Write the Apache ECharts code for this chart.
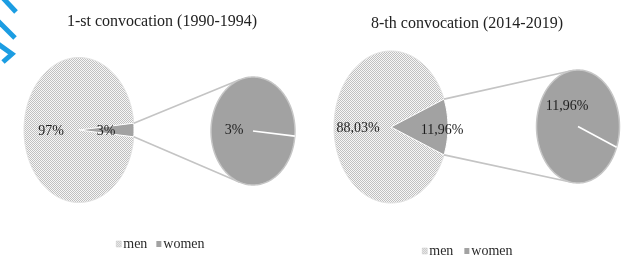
<!DOCTYPE html>
<html>
<head>
<meta charset="utf-8">
<script src="https://cdn.jsdelivr.net/npm/echarts@6/dist/echarts.min.js"></script>
<style>
  html, body { margin: 0; background: #fff; }
  #chart { width: 622px; height: 256px; }
</style>
</head>
<body>
<div id="chart"></div>
<script>
// data
const categories = ['men', 'women'];
const titles = ['1-st convocation (1990-1994)', '8-th convocation (2014-2019)'];
const conv1Values = [97, 3];
const conv8Values = [88.03, 11.96];
const conv1Labels = ['97%', '3%'];
const conv8Labels = ['88,03%', '11,96%'];

// layout of the two pie-of-pie panels (stretched pies -> ellipses)
const panels = [
  {
    values: conv1Values, labels: conv1Labels,
    main: { cx: 79, cy: 130, rx: 55, ry: 72.5 },
    sub: { cx: 253, cy: 131, rx: 42, ry: 54 },
    menLabel: [-28, 1], womenLabel: [27, 1], subLabel: [-19, -1]
  },
  {
    values: conv8Values, labels: conv8Labels,
    main: { cx: 391, cy: 127, rx: 57, ry: 76 },
    sub: { cx: 578, cy: 126.5, rx: 41.5, ry: 56.5 },
    menLabel: [-33, 1], womenLabel: [51, 3], subLabel: [-11, -20.5]
  }
];

const FONT = '"Liberation Serif", "DejaVu Serif", serif';
const womenColor = '#a2a2a2';
const lineColor = '#c4c4c4';

// dotted fill for "men"
const dots = document.createElement('canvas');
dots.width = 2;
dots.height = 2;
const dctx = dots.getContext('2d');
dctx.fillStyle = '#f6f6f6';
dctx.fillRect(0, 0, 2, 2);
dctx.fillStyle = '#c0c0c0';
dctx.fillRect(0, 0, 1, 1);
dctx.fillRect(1, 1, 1, 1);
const menFill = { image: dots, repeat: 'repeat' };

const rad = (d) => d * Math.PI / 180;

function ellPoint(g, deg) {
  return [g.cx + g.rx * Math.cos(rad(deg)), g.cy - g.ry * Math.sin(rad(deg))];
}

function arcPoints(g, a0, a1) {
  const pts = [];
  const n = Math.max(2, Math.ceil(Math.abs(a1 - a0) / 2));
  for (let i = 0; i <= n; i++) {
    pts.push(ellPoint(g, a0 + (a1 - a0) * i / n));
  }
  return pts;
}

// tangent point on ellipse g seen from point p (upper or lower one)
function tangent(p, g, upper) {
  const k = g.rx / g.ry;
  const qx = p[0] - g.cx;
  const qy = (p[1] - g.cy) * k;
  const d = Math.hypot(qx, qy);
  const base = Math.atan2(qy, qx);
  const t = Math.acos(g.rx / d);
  const cand = [base + t, base - t].map((a) => [
    g.cx + g.rx * Math.cos(a),
    g.cy + g.rx * Math.sin(a) / k
  ]);
  cand.sort((a, b) => a[1] - b[1]);
  return upper ? cand[0] : cand[1];
}

function label(x, y, text) {
  return {
    type: 'text', x: x, y: y,
    style: { text: text, font: '14px ' + FONT, fill: '#1e1e1e', align: 'center', verticalAlign: 'middle' }
  };
}

function renderSlice(p, k) {
  const total = p.values[0] + p.values[1];
  const h = 180 * p.values[1] / total;
  const m = p.main;
  const children = [];
  if (k === 0) {
    children.push({
      type: 'polygon',
      shape: { points: [[m.cx, m.cy]].concat(arcPoints(m, h, 360 - h)) },
      style: { fill: menFill, stroke: '#e2e2e2', lineWidth: 1 }
    });
    children.push(label(m.cx + p.menLabel[0], m.cy + p.menLabel[1], p.labels[0]));
  } else {
    const s = p.sub;
    const top = ellPoint(m, h);
    const bot = ellPoint(m, -h);
    children.push({
      type: 'polygon',
      shape: { points: [[m.cx, m.cy]].concat(arcPoints(m, -h, h)) },
      style: { fill: womenColor, stroke: '#fff', lineWidth: 1 }
    });
    // connector lines
    const t1 = tangent(top, s, true);
    const t2 = tangent(bot, s, false);
    children.push({ type: 'line', shape: { x1: top[0], y1: top[1], x2: t1[0], y2: t1[1] }, style: { stroke: lineColor, lineWidth: 1.6 } });
    children.push({ type: 'line', shape: { x1: bot[0], y1: bot[1], x2: t2[0], y2: t2[1] }, style: { stroke: lineColor, lineWidth: 1.6 } });
    // secondary pie: women = 100 %
    children.push({
      type: 'polygon',
      shape: { points: arcPoints(s, 0, 360) },
      style: { fill: womenColor, stroke: '#c6c6c6', lineWidth: 1.5 }
    });
    const edge = ellPoint(s, -h);
    children.push({ type: 'line', shape: { x1: s.cx, y1: s.cy, x2: edge[0], y2: edge[1] }, style: { stroke: '#fff', lineWidth: 1.6 } });
    children.push(label(m.cx + p.womenLabel[0], m.cy + p.womenLabel[1], p.labels[1]));
    children.push(label(s.cx + p.subLabel[0], s.cy + p.subLabel[1], p.labels[1]));
  }
  return { type: 'group', children: children };
}

const series = [];
panels.forEach((p) => {
  categories.forEach((name, k) => {
    series.push({
      type: 'custom',
      name: name,
      coordinateSystem: 'none',
      silent: true,
      data: [p.values[k]],
      itemStyle: { color: k === 0 ? menFill : womenColor },
      renderItem: () => renderSlice(p, k)
    });
  });
});

const legendBase = {
  data: [
    { name: 'men', icon: 'rect', itemStyle: { color: menFill, borderColor: '#c8c8c8', borderWidth: 0.5 } },
    { name: 'women', icon: 'rect', itemStyle: { color: womenColor } }
  ],
  itemWidth: 5,
  itemHeight: 6,
  padding: 0,
  selectedMode: false,
  textStyle: { fontFamily: FONT, fontSize: 14, color: '#2a2a2a', padding: [0, 0, 0, -3] }
};

const chart = echarts.init(document.getElementById('chart'), null, { renderer: 'canvas' });
chart.setOption({
  animation: false,
  backgroundColor: '#fff',
  title: [
    { text: titles[0], left: 157, top: 9, textAlign: 'center', textStyle: { fontFamily: FONT, fontSize: 16, fontWeight: 'normal', color: '#222' } },
    { text: titles[1], left: 462, top: 11, textAlign: 'center', textStyle: { fontFamily: FONT, fontSize: 16, fontWeight: 'normal', color: '#222' } }
  ],
  legend: [
    Object.assign({}, legendBase, { left: 116, top: 237, itemGap: 9 }),
    Object.assign({}, legendBase, { left: 422, top: 244, itemGap: 11 })
  ],
  graphic: [
    { type: 'polyline', shape: { points: [[3, -2], [16, 12]] }, style: { stroke: '#1c9de2', lineWidth: 5 } },
    { type: 'polyline', shape: { points: [[-2, 21], [15, 38]] }, style: { stroke: '#1c9de2', lineWidth: 5 } },
    { type: 'polyline', shape: { points: [[-2, 44], [12, 54], [3, 62]] }, style: { stroke: '#1c9de2', lineWidth: 5 } }
  ],
  series: series
});
</script>
</body>
</html>
